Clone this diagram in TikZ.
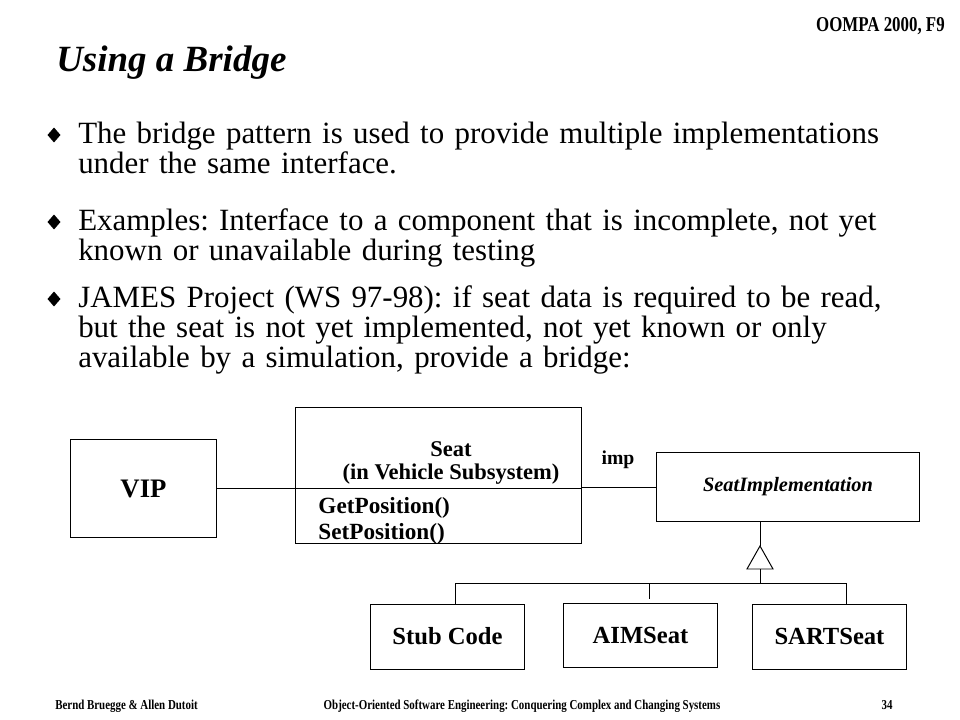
\documentclass[tikz,border=0pt]{standalone}
\usepackage{fontspec}
\setmainfont{Liberation Serif}
\newfontfamily\condfont{Liberation Serif}[FakeStretch=0.8]
\usetikzlibrary{shapes.geometric}
\frenchspacing

\begin{document}
\begin{tikzpicture}[x=0.025cm, y=-0.025cm,
    cls/.style={draw, line width=0.7pt, inner sep=0pt, font=\bfseries\fontsize{17.5}{19}\selectfont},
    sub/.style={cls, minimum width=3.825cm, minimum height=1.625cm},
    bul/.style={diamond, fill, inner sep=0pt, minimum width=0.33cm, minimum height=0.38cm},
    para/.style={anchor=base west, inner sep=0pt, text width=21.5cm, align=left,
      font=\fontsize{22}{21}\selectfont},
    foot/.style={anchor=base, inner sep=0pt, font=\condfont\bfseries\fontsize{9.7}{10}\selectfont}]
    \useasboundingbox (0,0) rectangle (960,720);
    % header and title
    \node[anchor=base east, inner sep=0pt, font=\condfont\bfseries\fontsize{15}{15}\selectfont] (course) at (945,32) {OOMPA 2000, F9};
    \node[anchor=base west, inner sep=0pt, font=\bfseries\itshape\fontsize{26.3}{28}\selectfont] (title) at (56,72) {Using a Bridge};
    % bullet list
    \node[bul] (b1) at (54,135) {};
    \node[bul] (b2) at (54,222) {};
    \node[bul] (b3) at (54,299) {};
    \node[para] (p1) at (78,144) {The bridge pattern is used to provide multiple implementations\\under the same interface.};
    \node[para] (p2) at (78,231) {Examples: Interface to a component that is incomplete, not yet\\known or unavailable during testing};
    \node[para] (p3) at (78,308) {JAMES Project (WS 97-98): if seat data is required to be read,\\but the seat is not yet implemented, not yet known or only\\available by a simulation, provide a bridge:};
    % classes
    \node[cls, minimum width=3.625cm, minimum height=2.425cm, font=\bfseries\fontsize{19}{20}\selectfont] (vip) at (143.5,488.5) {VIP};
    \node[cls, minimum width=7.125cm, minimum height=3.375cm] (seat) at (438.5,475.5) {};
    \node[cls, draw=none, align=center, font=\bfseries\fontsize{16}{17}\selectfont] (seatname) at (451,463) {Seat\\(in Vehicle Subsystem)};
    \node[cls, draw=none, anchor=west, align=left, font=\bfseries\fontsize{16.5}{18.5}\selectfont] (seatops) at (318,521) {GetPosition()\\SetPosition()};
    \draw[line width=0.7pt] (seat.west |- 0,488) -- (seat.east |- 0,488);
    \node[cls, minimum width=6.55cm, minimum height=1.7cm, font=\bfseries\itshape\fontsize{14.5}{16}\selectfont] (impl) at (788,487) {SeatImplementation};
    \node[sub] (stub) at (447.5,636.5) {Stub Code};
    \node[sub, minimum height=1.6cm] (aim) at (640.5,635) {AIMSeat};
    \node[sub] (sart) at (829.5,636.5) {SARTSeat};
    % associations
    \draw[line width=0.7pt] (vip.east) -- (vip.east -| seat.west);
    \draw[line width=0.7pt] (seat.east |- impl.west) -- (impl.west);
    \node[inner sep=0pt, font=\bfseries\fontsize{14}{15}\selectfont] (imp) at (618,460) {imp};
    % generalization
    \coordinate (gen) at (760,546);
    \coordinate (bus) at (760,583);
    \coordinate (d1) at (455,583);
    \coordinate (d2) at (649,583);
    \coordinate (d3) at (846,583);
    \draw[line width=0.7pt] (gen |- impl.south) -- (gen);
    \draw[line width=0.7pt] (gen) -- ++(-13,23) -- ++(26,0) -- cycle;
    \draw[line width=0.7pt] (bus) ++(0,-14) -- (bus);
    \draw[line width=0.7pt] (d1) -- (d3);
    \draw[line width=0.7pt] (d1) -- (d1 |- stub.north);
    \draw[line width=0.7pt] (d2) -- ++(0,16);
    \draw[line width=0.7pt] (d3) -- (d3 |- sart.north);
    % footer
    \node[foot, anchor=base west] (authors) at (55,709) {Bernd Bruegge \& Allen Dutoit};
    \node[foot] (book) at (522,709) {Object-Oriented Software Engineering: Conquering Complex and Changing Systems};
    \node[foot] (page) at (887,709) {34};
\end{tikzpicture}
\end{document}
